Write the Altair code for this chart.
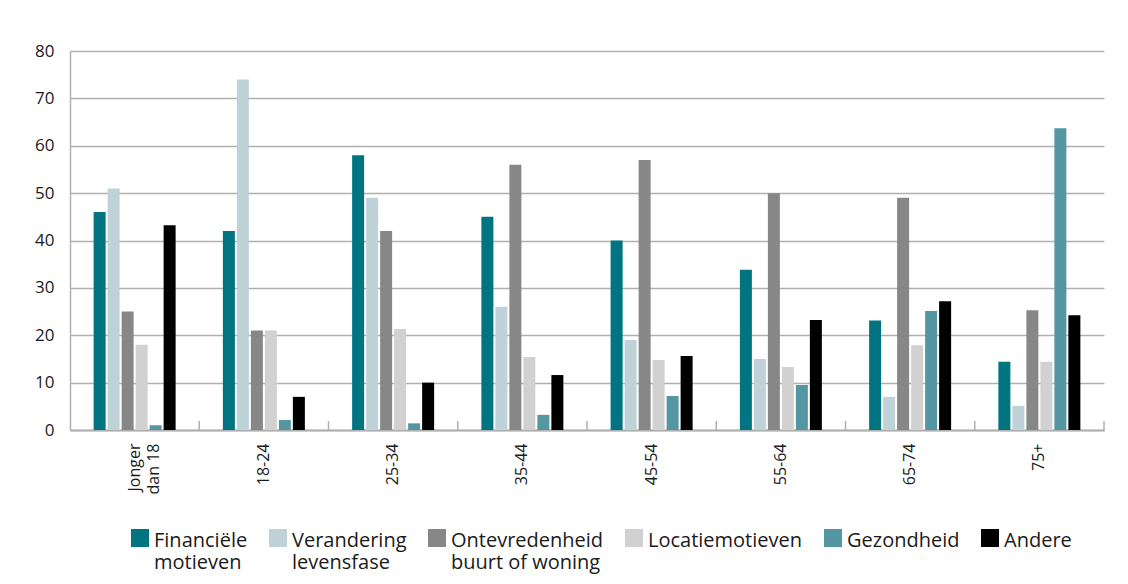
import altair as alt
import pandas as pd

ages = ["Jonger dan 18", "18-24", "25-34", "35-44", "45-54", "55-64", "65-74", "75+"]
series = ["Financiële motieven", "Verandering levensfase", "Ontevredenheid buurt of woning",
          "Locatiemotieven", "Gezondheid", "Andere"]
colors = ["#007480", "#bfd2d7", "#878787", "#d1d1d1", "#5497a2", "#000000"]

financiele = [46, 42, 58, 45, 40, 33.8, 23.1, 14.4]
verandering = [51, 74, 49, 26, 19, 15, 7, 5.1]
ontevredenheid = [25, 21, 42, 56, 57, 50, 49, 25.3]
locatie = [18, 21, 21.3, 15.4, 14.8, 13.3, 17.9, 14.4]
gezondheid = [1, 2.1, 1.4, 3.2, 7.2, 9.5, 25.1, 63.7]
andere = [43.2, 7, 10, 11.6, 15.6, 23.2, 27.2, 24.2]

values = [financiele, verandering, ontevredenheid, locatie, gezondheid, andere]

rows = []
for s, vals in zip(series, values):
    for a, v in zip(ages, vals):
        rows.append({"age": a, "reden": s, "waarde": v})
df = pd.DataFrame(rows)
ages_df = pd.DataFrame({"age": ages})

FONT = "Open Sans"
# every legend label becomes two lines (second one blank for one-word labels) so entries align
split_expr = ("indexof(datum.label,' ') > 0 ? [substring(datum.label,0,indexof(datum.label,' ')), "
              "substring(datum.label,indexof(datum.label,' ')+1)] : [datum.label, ' ']")
split_expr_x = ("datum.label == 'Jonger dan 18' ? ['Jonger','dan 18'] : datum.label")

W, H = 1034, 379
PI = 0.3656

x_scale = alt.Scale(paddingInner=PI, paddingOuter=PI / 2)

x_enc = alt.X("age:N", sort=ages, title=None, scale=x_scale,
              axis=alt.Axis(labelAngle=270, labelFontSize=16, labelFont=FONT,
                            labelColor="#1a1a1a", labelPadding=13, ticks=False,
                            domainColor="#b0b0b0", domainWidth=2,
                            labelExpr=split_expr_x, labelLineHeight=19))

bars = alt.Chart(df).mark_bar().encode(
    x=x_enc,
    xOffset=alt.XOffset("reden:N", sort=series,
                        scale=alt.Scale(paddingInner=0.1429, paddingOuter=0)),
    y=alt.Y("waarde:Q", title=None,
            scale=alt.Scale(domain=[0, 80], nice=False),
            axis=alt.Axis(values=list(range(0, 81, 10)), labelFontSize=17, labelFont=FONT,
                          labelColor="#1a1a1a", labelPadding=16, ticks=False,
                          domainColor="#b0b0b0", domainWidth=1.5,
                          gridColor="#b0b0b0", gridWidth=1.5)),
    color=alt.Color("reden:N", sort=series, title=None,
                    scale=alt.Scale(domain=series, range=colors),
                    legend=alt.Legend(orient="none", legendX=60, legendY=486,
                                      direction="horizontal", columns=0,
                                      symbolType="M-1,-2H1V0H-1Z", symbolSize=324,
                                      symbolStrokeWidth=0, symbolOpacity=1,
                                      labelFontSize=20, labelFont=FONT,
                                      labelColor="#1a1a1a", labelOffset=4,
                                      labelLimit=400, columnPadding=20,
                                      labelBaseline="alphabetic", padding=0,
                                      labelExpr=split_expr)),
)

ticks = alt.Chart(ages_df).mark_rule(color="#b0b0b0", strokeWidth=1.5).encode(
    x=alt.X("age:N", sort=ages, bandPosition=1, axis=None,
            scale=alt.Scale(paddingInner=0, paddingOuter=0)),
    y=alt.value(H - 9),
    y2=alt.value(H),
)

chart = alt.layer(bars, ticks).resolve_scale(x="independent").properties(
    width=W, height=H,
    autosize=alt.AutoSizeParams(type="none"),
    padding={"left": 62, "top": 43, "right": 10, "bottom": 146},
    background="white",
).configure_view(stroke=None)

chart.save("out.html", embed_options={"renderer": "svg", "actions": False})
